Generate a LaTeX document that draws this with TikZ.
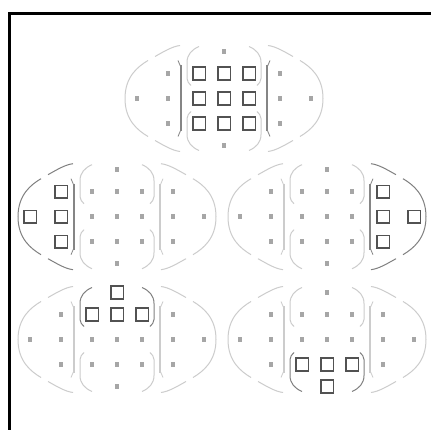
\documentclass[tikz,border=0pt]{standalone}
\usepackage{tikz}

\tikzset{
	lightline/.style={color=black!20, line width=1pt},
	darkline/.style={color=black!50, line width=1pt},
	lightbar/.style={color=black!20, line width=2pt},
	darkbar/.style={color=black!48, line width=2pt},
	afdot/.style={fill=black!35},
	afbox/.style={color=black!68, fill=white, line width=1.6pt},
	hexleft/.style={lightline}, hexright/.style={lightline},
	barleft/.style={lightbar}, barright/.style={lightbar},
	braceup/.style={lightline}, bracelow/.style={lightline}
}

% one half of the outline, left side, x flipped for the right one
\newcommand{\afhalf}[3]{
	\begin{scope}[xscale=#1]
		\draw[#2](-44,-53) .. controls (-52,-52) and (-60,-47) .. (-69,-42);
		\draw[#2](-76,-38) .. controls (-86,-32) and (-99,-22) .. (-99,0) .. controls (-99,22) and (-86,32) .. (-76,38);
		\draw[#2](-69,42) .. controls (-60,47) and (-52,52) .. (-44,53);
		\draw[#3](-43,-33) -- (-43,33);
		\draw[#3, line width=0.8pt](-43,-31) -- (-46,-38);
		\draw[#3, line width=0.8pt](-43,31) -- (-46,38);
		\draw[braceup](-25,-52) .. controls (-32,-49) and (-37,-44) .. (-37,-36) -- (-37,-20) .. controls (-37,-17) and (-35,-15) .. (-33,-13);
		\draw[bracelow](-25,52) .. controls (-32,49) and (-37,44) .. (-37,36) -- (-37,20) .. controls (-37,17) and (-35,15) .. (-33,13);
	\end{scope}
}

% all the points, then the outline, then the boxes given in #1
\newcommand{\afpanel}[1]{
	\foreach \x/\y in {0/-47,0/47,-87/0,87/0,-56/-25,-56/0,-56/25,56/-25,56/0,56/25,
		-25/-25,0/-25,25/-25,-25/0,0/0,25/0,-25/25,0/25,25/25}{
		\fill[afdot](\x-2.2,\y-2.2) rectangle ++(4.4,4.4);
	}
	\afhalf{1}{hexleft}{barleft}
	\afhalf{-1}{hexright}{barright}
	\foreach \x/\y in {#1}{
		\draw[afbox](\x-6.3,\y-6.3) rectangle ++(12.6,12.6);
	}
}

\begin{document}
\begin{tikzpicture}[x=1pt,y=-1pt]
	\useasboundingbox (0,0) rectangle (431,430);
	\fill[white](0,0) rectangle (431,430);
	\fill[black](8,12) rectangle (431,15.5);
	\fill[black](8,12) rectangle (11,430);
	% centre group
	\begin{scope}[shift={(224,98.5)}, barleft/.style={darkbar}, barright/.style={darkbar}]
		\afpanel{-25/-25,0/-25,25/-25,-25/0,0/0,25/0,-25/25,0/25,25/25}
	\end{scope}
	% left group
	\begin{scope}[shift={(117,216.7)}, hexleft/.style={darkline}, barleft/.style={darkbar}]
		\afpanel{-56/-25,-56/0,-56/25,-87/0}
	\end{scope}
	% right group
	\begin{scope}[shift={(327,216.7)}, hexright/.style={darkline}, barright/.style={darkbar}]
		\afpanel{56/-25,56/0,56/25,87/0}
	\end{scope}
	% top group
	\begin{scope}[shift={(117,339.5)}, braceup/.style={darkline}]
		\afpanel{0/-47,-25/-25,0/-25,25/-25}
	\end{scope}
	% bottom group
	\begin{scope}[shift={(327,339.5)}, bracelow/.style={darkline}]
		\afpanel{0/47,-25/25,0/25,25/25}
	\end{scope}
\end{tikzpicture}
\end{document}
